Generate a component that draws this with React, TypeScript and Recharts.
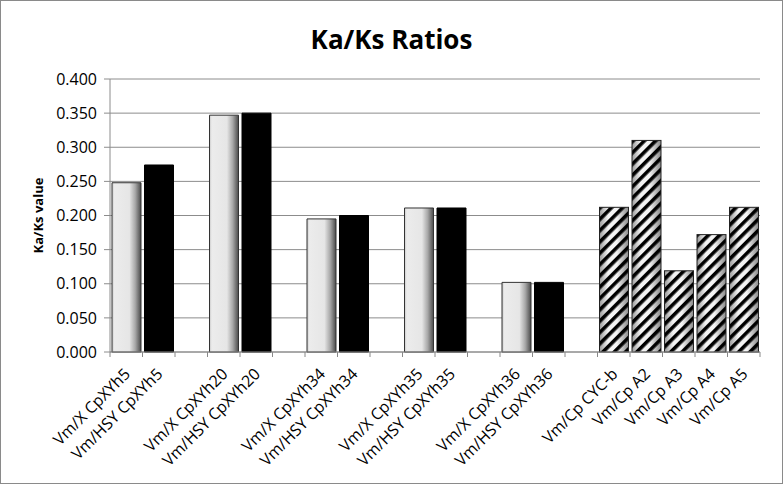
import React from 'react';
import { BarChart, Bar, XAxis, YAxis, CartesianGrid, Label } from 'recharts';

// empty strings are the spacer slots between pairs
const categories = [
  'Vm/X CpXYh5', 'Vm/HSY CpXYh5', '',
  'Vm/X CpXYh20', 'Vm/HSY CpXYh20', '',
  'Vm/X CpXYh34', 'Vm/HSY CpXYh34', '',
  'Vm/X CpXYh35', 'Vm/HSY CpXYh35', '',
  'Vm/X CpXYh36', 'Vm/HSY CpXYh36', '',
  'Vm/Cp CYC-b', 'Vm/Cp A2', 'Vm/Cp A3', 'Vm/Cp A4', 'Vm/Cp A5',
];
const vmX = [0.248, null, null, 0.347, null, null, 0.195, null, null, 0.211, null, null, 0.102, null, null, null, null, null, null, null];
const vmHSY = [null, 0.274, null, null, 0.350, null, null, 0.200, null, null, 0.211, null, null, 0.102, null, null, null, null, null, null];
const vmCp = [null, null, null, null, null, null, null, null, null, null, null, null, null, null, null, 0.212, 0.310, 0.119, 0.172, 0.212];
const yTicks = [0, 0.05, 0.1, 0.15, 0.2, 0.25, 0.3, 0.35, 0.4];

const data = categories.map((name, i) => ({ name, vmX: vmX[i], vmHSY: vmHSY[i], vmCp: vmCp[i] }));

const FONT = '"Open Sans", sans-serif';

const HatchedBar = (props: any) => {
  const { x, y, width, height } = props;
  if (!height || height <= 0) return null;
  return (
    <g>
      <rect x={x} y={y} width={width} height={height} fill="url(#hatchBg)" />
      <rect x={x} y={y} width={width} height={height} fill="url(#hatch)" stroke="#222" strokeWidth={1} />
    </g>
  );
};

const XTick = (props: any) => {
  const { x, y, payload, index, visibleTicksCount } = props;
  const step = 650 / categories.length;
  const half = step / 2;
  const tx = x + 5;
  const ty = y + 15;
  return (
    <g>
      <line x1={x - half} y1={y - 8} x2={x - half} y2={y - 3} stroke="#888" />
      {index === (visibleTicksCount ?? categories.length) - 1 && (
        <line x1={x + half} y1={y - 8} x2={x + half} y2={y - 3} stroke="#888" />
      )}
      <text
        x={tx}
        y={ty}
        transform={`rotate(-45, ${tx}, ${ty})`}
        textAnchor="end"
        fontSize={16}
        fontFamily={FONT}
        fill="#000"
      >
        {payload.value}
      </text>
    </g>
  );
};

export default function App() {
  return (
    <div
      style={{
        position: 'absolute',
        left: 0,
        top: 0,
        width: 783,
        height: 484,
        boxSizing: 'border-box',
        border: '1px solid #8a8a8a',
        background: '#fff',
      }}
    >
      <div
        style={{
          position: 'absolute',
          left: 0,
          width: '100%',
          top: 20,
          textAlign: 'center',
          fontFamily: FONT,
          fontWeight: 700,
          fontSize: 26,
          color: '#000',
        }}
      >
        Ka/Ks Ratios
      </div>
      <BarChart
        width={781}
        height={482}
        data={data}
        margin={{ top: 78, right: 22, bottom: 11, left: 49 }}
        barCategoryGap={2}
      >
        <defs>
          <linearGradient id="lightGrad" x1="0" y1="0" x2="1" y2="0">
            <stop offset="0" stopColor="#c8c8c8" />
            <stop offset="0.08" stopColor="#ececec" />
            <stop offset="0.6" stopColor="#e6e6e6" />
            <stop offset="0.8" stopColor="#a8a8a8" />
            <stop offset="1" stopColor="#4a4a4a" />
          </linearGradient>
          <linearGradient id="hatchBg" x1="0" y1="0" x2="1" y2="0">
            <stop offset="0" stopColor="#9a9a9a" />
            <stop offset="0.3" stopColor="#f4f4f4" />
            <stop offset="0.6" stopColor="#f4f4f4" />
            <stop offset="1" stopColor="#8a8a8a" />
          </linearGradient>
          <pattern id="hatch" patternUnits="userSpaceOnUse" width="8" height="8" patternTransform="rotate(45)">
            <rect x="0" y="0" width="3.6" height="8" fill="#000" />
          </pattern>
        </defs>
        <CartesianGrid vertical={false} stroke="#8c8c8c" />
        <XAxis
          dataKey="name"
          interval={0}
          height={120}
          tick={<XTick />}
          tickLine={false}
          axisLine={{ stroke: '#8c8c8c' }}
        />
        <YAxis
          width={60}
          domain={[0, 0.4]}
          ticks={yTicks}
          tickFormatter={(v: number) => v.toFixed(3)}
          tick={{ fontSize: 16, fontFamily: FONT, fill: '#000', dx: -5 }}
          tickLine={{ stroke: '#8c8c8c' }}
          tickSize={6}
          axisLine={{ stroke: '#8c8c8c' }}
        >
          <Label
            value="Ka/Ks value"
            angle={-90}
            position="insideLeft"
            offset={-12}
            style={{ fontSize: 13, fontWeight: 700, fontFamily: FONT, fill: '#000', textAnchor: 'middle' }}
          />
        </YAxis>
        <Bar dataKey="vmX" stackId="a" fill="url(#lightGrad)" stroke="#333" strokeWidth={1} isAnimationActive={false} />
        <Bar dataKey="vmHSY" stackId="a" fill="#000" stroke="#000" isAnimationActive={false} />
        <Bar dataKey="vmCp" stackId="a" shape={<HatchedBar />} isAnimationActive={false} />
      </BarChart>
    </div>
  );
}
